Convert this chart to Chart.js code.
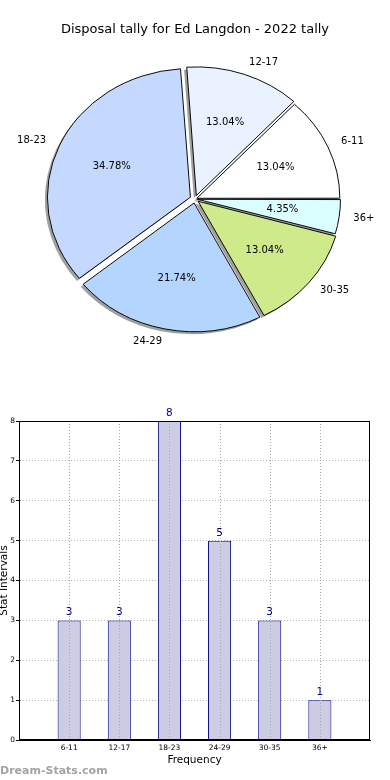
<!DOCTYPE html>
<html>
<head>
<meta charset="utf-8">
<script src="https://cdn.jsdelivr.net/npm/chart.js@4"></script>
<style>
  html, body { margin: 0; padding: 0; background: #fff; }
  body { width: 390px; height: 780px; position: relative; overflow: hidden; }
  #pieBox { position: absolute; left: 0; top: 0; width: 390px; height: 390px; }
  #barBox { position: absolute; left: 0; top: 400px; width: 390px; height: 380px; }
  #mark { position: absolute; left: 0; top: 764px; font: bold 11px "DejaVu Sans"; line-height: 13px; color: #a3a3a3; }
</style>
</head>
<body>
<div id="pieBox"><canvas id="pieChart"></canvas></div>
<div id="barBox"><canvas id="barChart"></canvas></div>
<div id="mark">Dream-Stats.com</div>
<script>
const ageGroups = ["6-11", "12-17", "18-23", "24-29", "30-35", "36+"];
const tally = [3, 3, 8, 5, 3, 1];
const chartTitle = "Disposal tally for Ed Langdon - 2022 tally";

const pieColours = ["#ffffff", "#eaf1ff", "#c5d9fe", "#b4d5fe", "#cfea8b", "#dbffff"];

// matplotlib draws the pie squashed (no equal aspect), so squash it here too
const R = 143, CY = 199;
const squash = 0.9;

const rev = (a) => a.slice().reverse();

function toEllipse(chart, ctx) {
  const a = chart.getDatasetMeta(0).data[0];
  ctx.translate(0, CY);
  ctx.scale(1, squash);
  ctx.translate(0, -a.y);
}

// chart.js grows small offset wedges a bit, undo that so every wedge has radius R
function arcGeom(a) {
  const d = (a.options.offset || 0) / 4;
  const mid = (a.startAngle + a.endAngle) / 2;
  const fix = 1 - Math.sin(Math.min(Math.PI, a.circumference));
  return { d, mid, fix };
}

const ellipsePie = {
  id: "ellipsePie",
  beforeDatasetsDraw(chart) {
    const ctx = chart.ctx;
    const arcs = chart.getDatasetMeta(0).data;
    arcs.forEach((a) => {
      const g = arcGeom(a);
      a.outerRadius = R - g.d * g.fix;
    });
    ctx.save();
    // shadows first, under every wedge
    ctx.save();
    ctx.translate(-2.5, 2.5);
    toEllipse(chart, ctx);
    ctx.fillStyle = "#a0a0a0";
    arcs.forEach((a) => {
      const g = arcGeom(a);
      const x = a.x + Math.cos(g.mid) * g.d;
      const y = a.y + Math.sin(g.mid) * g.d;
      ctx.beginPath();
      ctx.moveTo(x, y);
      ctx.arc(x, y, R, a.startAngle, a.endAngle);
      ctx.closePath();
      ctx.fill();
    });
    ctx.restore();
    toEllipse(chart, ctx);
  },
  afterDatasetsDraw(chart) {
    const ctx = chart.ctx;
    ctx.restore();
    const arcs = chart.getDatasetMeta(0).data;
    const labels = chart.data.labels;
    const values = chart.data.datasets[0].data;
    const total = values.reduce((s, v) => s + v, 0);
    ctx.save();
    ctx.font = '10px "DejaVu Sans"';
    ctx.fillStyle = "#000";
    ctx.textBaseline = "middle";
    arcs.forEach((a, i) => {
      const g = arcGeom(a);
      const c = Math.cos(g.mid), s = Math.sin(g.mid);
      const at = (r) => [a.x + c * (g.d + r * R), CY + squash * s * (g.d + r * R)];
      const [lx, ly] = at(1.1);
      ctx.textAlign = c > 0 ? "left" : "right";
      ctx.fillText(labels[i], lx, ly);
      const [px, py] = at(0.6);
      ctx.textAlign = "center";
      ctx.fillText(((values[i] / total) * 100).toFixed(2) + "%", px, py);
    });
    ctx.restore();
  },
};

new Chart(document.getElementById("pieChart"), {
  type: "pie",
  data: {
    labels: rev(ageGroups),
    datasets: [
      {
        data: rev(tally),
        backgroundColor: rev(pieColours),
        borderColor: "#000",
        borderWidth: 1,
        offset: rev([8, 16, 20, 18, 16, 10]),
        clip: false,
      },
    ],
  },
  options: {
    responsive: true,
    maintainAspectRatio: false,
    animation: false,
    rotation: 90,
    radius: R,
    plugins: {
      legend: { display: false },
      tooltip: { enabled: false },
      title: {
        display: true,
        text: chartTitle,
        color: "#000",
        font: { family: "DejaVu Sans", size: 13, weight: "normal" },
        padding: { top: 22, bottom: 0 },
      },
    },
  },
  plugins: [ellipsePie],
});

const barLabels = {
  id: "barLabels",
  afterDatasetsDraw(chart) {
    const ctx = chart.ctx;
    const { top, bottom } = chart.chartArea;
    const xs = chart.scales.x;
    ctx.save();
    // matplotlib draws the vertical grid over the bars
    ctx.strokeStyle = "#a8a8a8";
    ctx.lineWidth = 1;
    ctx.setLineDash([1, 2]);
    xs.ticks.forEach((t, i) => {
      const x = Math.round(xs.getPixelForTick(i)) + 0.5;
      ctx.beginPath();
      ctx.moveTo(x, top);
      ctx.lineTo(x, bottom);
      ctx.stroke();
    });
    ctx.setLineDash([]);
    ctx.font = '10.5px "DejaVu Sans"';
    ctx.fillStyle = "#00008b";
    ctx.textAlign = "center";
    ctx.textBaseline = "alphabetic";
    chart.getDatasetMeta(0).data.forEach((bar, i) => {
      ctx.fillText(String(tally[i]), bar.x, bar.y - 5);
    });
    ctx.restore();
  },
  afterDraw(chart) {
    const { left, top, width, height } = chart.chartArea;
    const ctx = chart.ctx;
    ctx.save();
    ctx.strokeStyle = "#000";
    ctx.lineWidth = 1;
    ctx.strokeRect(Math.round(left) + 0.5, Math.round(top) + 0.5, Math.round(width) - 1, Math.round(height) - 1);
    ctx.restore();
  },
};

const tickFont = { family: "DejaVu Sans", size: 7.5 };
const titleFont = { family: "DejaVu Sans", size: 10.5 };

new Chart(document.getElementById("barChart"), {
  type: "bar",
  data: {
    datasets: [
      {
        data: tally.map((v, i) => ({ x: i, y: v })),
        backgroundColor: "#ccccE4",
        borderColor: "#000080",
        borderWidth: 1,
        barPercentage: 0.46,
        categoryPercentage: 1,
      },
    ],
  },
  options: {
    responsive: true,
    maintainAspectRatio: false,
    animation: false,
    layout: { padding: { top: 21, right: 20, left: 0, bottom: 0 } },
    plugins: { legend: { display: false }, tooltip: { enabled: false } },
    scales: {
      x: {
        type: "linear",
        min: -1,
        max: 6,
        offset: false,
        afterBuildTicks: (s) => {
          s.ticks = ageGroups.map((_, i) => ({ value: i }));
        },
        afterFit: (s) => {
          s.height = 40;
        },
        ticks: {
          callback: (v) => ageGroups[v],
          color: "#000",
          font: tickFont,
          padding: 4,
          maxRotation: 0,
          autoSkip: false,
        },
        grid: { drawOnChartArea: false, drawTicks: false, offset: false },
        border: { color: "#000" },
        title: {
          display: true,
          text: "Frequency",
          color: "#000",
          font: titleFont,
          padding: { top: 0, bottom: 13.7 },
        },
      },
      y: {
        min: 0,
        max: 8,
        afterFit: (s) => {
          s.width = 19;
        },
        ticks: { stepSize: 1, color: "#000", font: tickFont, padding: 1 },
        grid: { color: "#b5b5b5", tickLength: 3, tickColor: "#000" },
        border: { color: "#000", dash: [1, 2] },
        title: {
          display: true,
          text: "Stat Intervals",
          color: "#000",
          font: titleFont,
          padding: { top: -2, bottom: 0 },
        },
      },
    },
  },
  plugins: [barLabels],
});
</script>
</body>
</html>
